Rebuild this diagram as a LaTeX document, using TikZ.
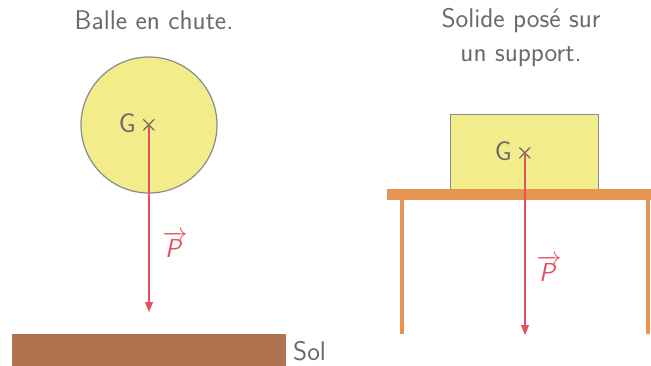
\documentclass[tikz,border=0pt]{standalone}
\usepackage{fontspec}
\usetikzlibrary{arrows.meta}
\definecolor{txtgray}{HTML}{6A6A6A}
\definecolor{ballyel}{HTML}{F2EC8A}
\definecolor{edgegray}{HTML}{8A8A8A}
\definecolor{pred}{HTML}{E5505E}
\definecolor{soil}{HTML}{B07350}
\definecolor{tabor}{HTML}{E49552}
\newcommand{\vecP}{$\overrightarrow{\textsf{\itshape P}\,}$}
\begin{document}
\begin{tikzpicture}[x=1pt,y=-1pt,
  lbl/.style={text=txtgray,font=\sffamily\fontsize{27}{34}\selectfont,inner sep=0pt},
  body/.style={fill=ballyel,draw=edgegray,line width=1.2pt},
  force/.style={draw=pred,line width=1.1pt,-{Triangle[length=10pt,width=8pt]}},
  plbl/.style={text=pred,font=\sffamily\fontsize{26}{30}\selectfont,inner sep=0pt},
  cross/.style={font=\fontsize{22}{22}\selectfont\boldmath,text=txtgray!90!black,inner sep=0pt}]
\useasboundingbox (0,0) rectangle (651,365);
% left
\node[lbl] (t1) at (154,20) {Balle en chute.};
\node[body,circle,minimum size=136pt,inner sep=0pt] (ball) at (149,125) {};
\node[cross] (g1) at (149,125) {$\times$};
\node[lbl,anchor=east] (G1) at (136,123) {G};
\coordinate (e1) at (149,312);
\draw[force] (g1.center) -- (e1);
\node[plbl] (P1) at (175,244) {\vecP};
\node[fill=soil,minimum width=274pt,minimum height=32pt,inner sep=0pt,anchor=north west] (sol) at (12,334) {};
\node[lbl,anchor=west] (soltxt) at (293,351) {Sol};
% right
\node[lbl,align=center] (t2) at (521,38) {Solide posé sur\\un support.};
\node[body,minimum width=148pt,minimum height=75pt,inner sep=0pt,anchor=north west] (box) at (450,114) {};
\node[cross] (g2) at (525,153) {$\times$};
\node[lbl,anchor=east] (G2) at (512,151) {G};
\node[fill=tabor,minimum width=265pt,minimum height=11pt,inner sep=0pt,anchor=north west] (top) at (387,189) {};
\node[fill=tabor,minimum width=3.5pt,minimum height=134pt,inner sep=0pt,anchor=north] (leg1) at (402,200) {};
\node[fill=tabor,minimum width=3.5pt,minimum height=134pt,inner sep=0pt,anchor=north] (leg2) at (648,200) {};
\coordinate (e2) at (525,335);
\draw[force] (g2.center) -- (e2);
\node[plbl] (P2) at (549,268) {\vecP};
\end{tikzpicture}
\end{document}
